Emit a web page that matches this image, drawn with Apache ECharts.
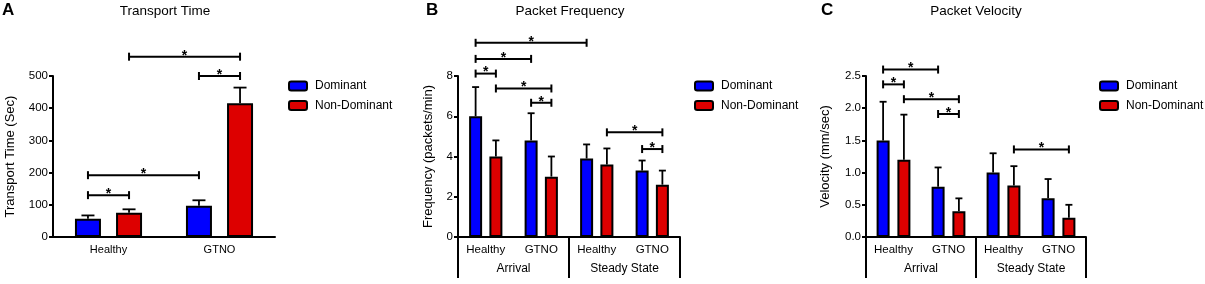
<!DOCTYPE html>
<html>
<head>
<meta charset="utf-8">
<script src="https://cdn.jsdelivr.net/npm/echarts@6/dist/echarts.min.js"></script>
<style>
  html, body { margin: 0; padding: 0; background: #fff; }
  #main { width: 1205px; height: 284px; }
</style>
</head>
<body>
<div id="main"></div>
<script>
// A - transport time
var catsA = ['Healthy', 'GTNO'];
var domA = [57, 97];
var domErrA = [10, 17];
var ndA = [75, 415];
var ndErrA = [11, 49];
// significance brackets: [cat1, bar1, cat2, bar2, height]  (bar 0 = dominant, 1 = non-dominant)
var sigA = [[0, 0, 0, 1, 130], [0, 0, 1, 0, 192], [1, 0, 1, 1, 500], [0, 1, 1, 1, 560]];

// B - packet frequency
var catsB = ['Healthy', 'GTNO', 'Healthy', 'GTNO'];
var groupsB = ['Arrival', 'Steady State'];
var domB = [6.0, 4.8, 3.9, 3.3];
var domErrB = [1.45, 1.35, 0.7, 0.5];
var ndB = [4.0, 3.0, 3.6, 2.6];
var ndErrB = [0.8, 1.0, 0.8, 0.7];
var sigB = [[0, 0, 2, 0, 9.65], [0, 0, 1, 0, 8.85], [0, 0, 0, 1, 8.12], [0, 1, 1, 1, 7.38],
            [1, 0, 1, 1, 6.67], [2, 1, 3, 1, 5.2], [3, 0, 3, 1, 4.37]];

// C - packet velocity
var catsC = ['Healthy', 'GTNO', 'Healthy', 'GTNO'];
var groupsC = ['Arrival', 'Steady State'];
var domC = [1.5, 0.78, 1.0, 0.6];
var domErrC = [0.6, 0.3, 0.3, 0.3];
var ndC = [1.2, 0.4, 0.8, 0.3];
var ndErrC = [0.7, 0.2, 0.3, 0.2];
var sigC = [[0, 0, 1, 0, 2.6], [0, 0, 0, 1, 2.37], [0, 1, 1, 1, 2.14], [1, 0, 1, 1, 1.91], [2, 1, 3, 1, 1.36]];

var FONT = '"Liberation Sans", Arial, Helvetica, sans-serif';
var BLUE = '#0000ff';
var RED = '#dd0000';
var LW = 2;

// bar layout per panel (px width, gap as fraction of width, cap width)
var lay = [
  { w: 26, gap: 0.58, cap: 13 },
  { w: 13, gap: 0.56, cap: 7 },
  { w: 13, gap: 0.6, cap: 7 }
];

function barOff(p, bar) {
  var s = p.w * (1 + p.gap) / 2;
  return bar ? s : -s;
}

function bars(name, xi, yi, p, data, color) {
  return {
    type: 'bar', name: name, xAxisIndex: xi, yAxisIndex: yi,
    data: data, barWidth: p.w, barGap: Math.round(p.gap * 100) + '%',
    itemStyle: { color: color, borderColor: '#000', borderWidth: LW },
    silent: true, z: 3
  };
}

function errBars(xi, yi, p, vals, errs, bar) {
  return {
    type: 'custom', xAxisIndex: xi, yAxisIndex: yi, clip: false, silent: true, z: 2,
    data: vals.map(function (v, i) { return [i, v, errs[i]]; }),
    encode: { x: 0, y: 1 },
    renderItem: function (params, api) {
      var i = api.value(0), v = api.value(1), e = api.value(2);
      var b = api.coord([i, v]);
      var t = api.coord([i, v + e]);
      var x = b[0] + barOff(p, bar);
      var st = { stroke: '#000', lineWidth: 1.8 };
      return { type: 'group', children: [
        { type: 'line', shape: { x1: x, y1: b[1], x2: x, y2: t[1] }, style: st },
        { type: 'line', shape: { x1: x - p.cap / 2, y1: t[1], x2: x + p.cap / 2, y2: t[1] }, style: st }
      ] };
    }
  };
}

function brackets(xi, yi, p, sig) {
  return {
    type: 'custom', xAxisIndex: xi, yAxisIndex: yi, clip: false, silent: true,
    data: sig, encode: { x: 0, y: 4 },
    renderItem: function (params, api) {
      var y = api.value(4);
      var p1 = api.coord([api.value(0), y]);
      var p2 = api.coord([api.value(2), y]);
      var x1 = p1[0] + barOff(p, api.value(1));
      var x2 = p2[0] + barOff(p, api.value(3));
      var yy = p1[1];
      var st = { stroke: '#000', lineWidth: LW };
      return { type: 'group', children: [
        { type: 'line', shape: { x1: x1, y1: yy, x2: x2, y2: yy }, style: st },
        { type: 'line', shape: { x1: x1, y1: yy - 4, x2: x1, y2: yy + 4 }, style: st },
        { type: 'line', shape: { x1: x2, y1: yy - 4, x2: x2, y2: yy + 4 }, style: st },
        { type: 'text', x: (x1 + x2) / 2, y: yy - 1,
          style: { text: '*', fill: '#000', font: 'bold 14px ' + FONT, align: 'center', verticalAlign: 'middle' } }
      ] };
    }
  };
}

function yAx(gi, name, max, step, gap, fmt) {
  return {
    type: 'value', gridIndex: gi, min: 0, max: max, interval: step,
    name: name, nameLocation: 'middle', nameGap: gap,
    nameTextStyle: { fontSize: 13, color: '#000', fontFamily: FONT },
    axisLine: { show: true, lineStyle: { color: '#000', width: LW } },
    axisTick: { show: true, length: 4, lineStyle: { color: '#000', width: LW } },
    axisLabel: { fontSize: 11.5, color: '#000', margin: 5, fontFamily: FONT, formatter: fmt },
    splitLine: { show: false }
  };
}

function xAx(gi, cats, fs) {
  return {
    type: 'category', gridIndex: gi, data: cats.map(function (c, i) { return i; }),
    axisLine: { lineStyle: { color: '#000', width: LW } },
    axisTick: { alignWithLabel: true, length: 4, lineStyle: { color: '#000', width: LW } },
    axisLabel: { fontSize: fs, color: '#000', margin: 7, fontFamily: FONT,
      formatter: function (v, i) { return cats[i]; } }
  };
}

function groupAx(gi, groups) {
  return {
    type: 'category', gridIndex: gi, data: groups, position: 'bottom', offset: 0,
    axisLine: { show: false },
    axisTick: { show: true, interval: 0, length: 41, lineStyle: { color: '#000', width: LW } },
    axisLabel: { fontSize: 12, color: '#000', margin: 26, fontFamily: FONT }
  };
}

function legendAt(left) {
  return {
    data: ['Dominant', 'Non-Dominant'], orient: 'vertical', left: left, top: 80,
    padding: 0, itemWidth: 18, itemHeight: 9, itemGap: 7.5, icon: 'roundRect',
    selectedMode: false,
    textStyle: { fontSize: 12, color: '#000', lineHeight: 12, fontFamily: FONT, padding: [0, 0, 0, 3] }
  };
}

function titleAt(text, x) {
  return { text: text, left: x, top: 4, padding: 0, textAlign: 'center',
    textStyle: { fontSize: 13.5, fontWeight: 'normal', color: '#000', fontFamily: FONT } };
}
function letterAt(text, x) {
  return { text: text, left: x, top: 2, padding: 0,
    textStyle: { fontSize: 17, fontWeight: 'bold', color: '#000', fontFamily: FONT } };
}

var chart = echarts.init(document.getElementById('main'));
chart.setOption({
  animation: false,
  backgroundColor: '#fff',
  textStyle: { fontFamily: FONT },
  title: [
    letterAt('A', 2), titleAt('Transport Time', 165),
    letterAt('B', 426), titleAt('Packet Frequency', 570),
    letterAt('C', 821), titleAt('Packet Velocity', 976)
  ],
  legend: [legendAt(288), legendAt(694), legendAt(1099)],
  grid: [
    { left: 53, width: 222, top: 76, height: 161 },
    { left: 458, width: 222, top: 76, height: 161 },
    { left: 866, width: 220, top: 76, height: 161 }
  ],
  xAxis: [
    xAx(0, catsA, 11),
    xAx(1, catsB, 11.5), groupAx(1, groupsB),
    xAx(2, catsC, 11.5), groupAx(2, groupsC)
  ],
  yAxis: [
    yAx(0, 'Transport Time (Sec)', 500, 100, 36),
    yAx(1, 'Frequency (packets/min)', 8, 2, 23),
    yAx(2, 'Velocity (mm/sec)', 2.5, 0.5, 34, function (v) { return v.toFixed(1); })
  ],
  series: [
    bars('Dominant', 0, 0, lay[0], domA, BLUE),
    bars('Non-Dominant', 0, 0, lay[0], ndA, RED),
    errBars(0, 0, lay[0], domA, domErrA, 0),
    errBars(0, 0, lay[0], ndA, ndErrA, 1),
    brackets(0, 0, lay[0], sigA),

    bars('Dominant', 1, 1, lay[1], domB, BLUE),
    bars('Non-Dominant', 1, 1, lay[1], ndB, RED),
    errBars(1, 1, lay[1], domB, domErrB, 0),
    errBars(1, 1, lay[1], ndB, ndErrB, 1),
    brackets(1, 1, lay[1], sigB),

    bars('Dominant', 3, 2, lay[2], domC, BLUE),
    bars('Non-Dominant', 3, 2, lay[2], ndC, RED),
    errBars(3, 2, lay[2], domC, domErrC, 0),
    errBars(3, 2, lay[2], ndC, ndErrC, 1),
    brackets(3, 2, lay[2], sigC)
  ]
});
</script>
</body>
</html>
